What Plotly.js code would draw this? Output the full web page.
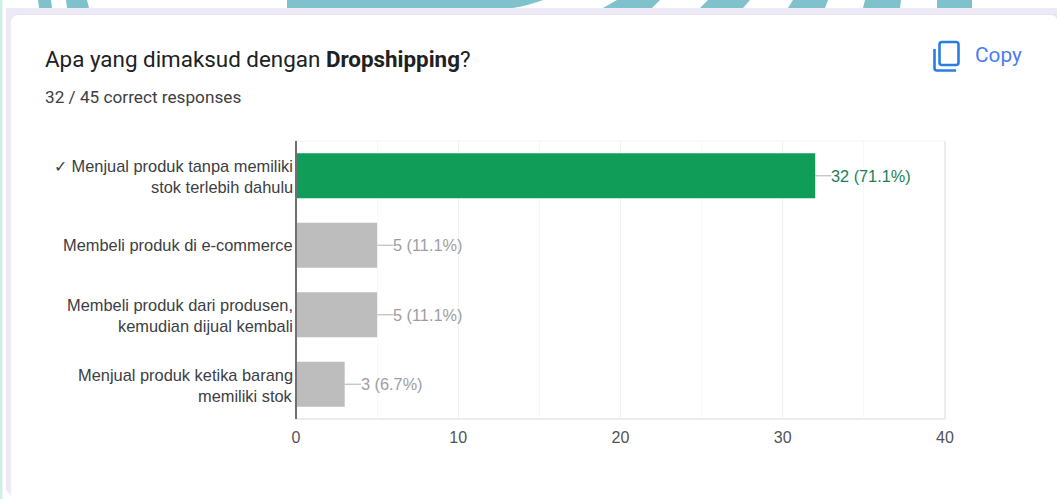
<!DOCTYPE html>
<html>
<head>
<meta charset="utf-8">
<script src="https://cdn.plot.ly/plotly-3.0.1.min.js"></script>
<style>
html,body{margin:0;padding:0;background:#fff;width:1057px;height:499px;overflow:hidden}
#bg{position:absolute;left:0;top:0;width:1057px;height:499px}
#chart{position:absolute;left:0;top:0;width:1057px;height:499px}
</style>
</head>
<body>
<svg id="bg" width="1057" height="499" viewBox="0 0 1057 499">
  <rect width="1057" height="499" fill="#fff"/>
  <rect x="0" y="0" width="2.5" height="499" fill="#cfeee6"/>
  <g fill="#7fc2cb">
    <polygon points="38,0 51,0 52,8 39,8"/>
    <polygon points="66,0 87,0 89,8 67,8"/>
    <path d="M287,0 L543,0 Q530,5 513,8 L287,8 Z"/>
    <polygon points="617,0 660,0 652,8 603,8"/>
    <polygon points="708,0 750,0 743,8 700,8"/>
    <polygon points="793,0 828,0 825,8 788,8"/>
    <polygon points="865,0 901,0 900,8 863,8"/>
    <polygon points="937,0 972,0 972,8 937,8"/>
  </g>
  <path d="M6,8 H1057 V499 H1057 L14,499 L6,490 Z" fill="#ede9f7"/>
  <rect x="11" y="14" width="1060" height="482" rx="8" fill="#e6e4ec"/>
  <path d="M11,23 Q11,15 19,15 H1049 Q1057,15 1057,20 V499 H14 Q11,497 11,494 Z" fill="#fff"/>
  <g fill="none" stroke="#2a7de1" stroke-width="2.6">
    <rect x="939.5" y="42" width="19" height="23" rx="2.5"/>
    <path d="M934.5,49 V68 Q934.5,70.5 937,70.5 H956"/>
  </g>
</svg>
<div id="chart"></div>
<script>
var categories = ["Menjual produk tanpa memiliki stok terlebih dahulu","Membeli produk di e-commerce","Membeli produk dari produsen, kemudian dijual kembali","Menjual produk ketika barang memiliki stok"];
var labelFirstLines = ["\u2713 Menjual produk tanpa memiliki","Membeli produk di e-commerce","Membeli produk dari produsen,","Menjual produk ketika barang"];
var labelSecondLines = ["stok terlebih dahulu","","kemudian dijual kembali","memiliki stok"];
var counts = [32,5,5,3];
var valueLabels = ["32 (71.1%)","5 (11.1%)","5 (11.1%)","3 (6.7%)"];
var barColors = ["#0f9d58","#bdbdbd","#bdbdbd","#bdbdbd"];
var valueLabelColors = ["#1b7f5c","#9e9e9e","#9e9e9e","#9e9e9e"];
var leaderLengths = [1,1,1,1];
var xTicks = [0,10,20,30,40];

var W=1057,H=499,L=296,R=945,T=141,B=419;
function px(x){return (x-L)/(R-L);}
function py(y){return (B-y)/(B-T);}
var ann=[];
function pageText(x,y,text,font,anchor){
  ann.push({xref:'paper',yref:'paper',x:px(x),y:py(y),text:text,showarrow:false,xanchor:anchor||'left',yanchor:'middle',borderpad:0,borderwidth:0,font:font});
}
pageText(45,59,'Apa yang dimaksud dengan <b>Dropshipping</b>?',{family:'Roboto',size:22.4,color:'#202124'});
pageText(45,97,'32 / 45 correct responses',{family:'Roboto',size:17.2,color:'#3c4043'});
pageText(975,55,'Copy',{family:'Roboto',size:20.8,color:'#4a7df0'});

var catFont={family:'Liberation Sans, Arial',size:16.4,color:'#3c4043'};
categories.forEach(function(c,i){
  var two=labelSecondLines[i]!=='';
  ann.push({xref:'x',yref:'y',x:0,y:c,xshift:-2,yshift:two?9.5:0,text:labelFirstLines[i],showarrow:false,xanchor:'right',yanchor:'middle',borderpad:0,font:catFont});
  if(two) ann.push({xref:'x',yref:'y',x:0,y:c,xshift:-2,yshift:-11.5,text:labelSecondLines[i],showarrow:false,xanchor:'right',yanchor:'middle',borderpad:0,font:catFont});
  ann.push({xref:'x',yref:'y',x:counts[i],y:c,xshift:15,text:valueLabels[i],showarrow:false,xanchor:'left',yanchor:'middle',borderpad:0,font:{family:'Liberation Sans, Arial',size:16.3,color:valueLabelColors[i]}});
});

var data=[{
  type:'bar',orientation:'h',x:counts,y:categories,width:0.645,
  marker:{color:barColors,line:{width:0}},
  error_x:{type:'data',symmetric:false,array:leaderLengths,arrayminus:[0,0,0,0],width:0,thickness:1.2,color:'#bdbdbd'},
  hoverinfo:'skip'
}];
var layout={
  width:W,height:H,autosize:false,
  paper_bgcolor:'rgba(0,0,0,0)',plot_bgcolor:'rgba(0,0,0,0)',
  margin:{l:L,r:W-R,t:T,b:H-B,pad:0},
  showlegend:false,
  xaxis:{range:[0,40],tickvals:xTicks,ticktext:xTicks.map(String),tickmode:'array',showgrid:true,gridcolor:'#f0f0f0',gridwidth:1,
    minor:{tickvals:[5,15,25,35],showgrid:true,gridcolor:'#f7f7f7',gridwidth:1,ticks:''},
    zeroline:false,showline:false,ticks:'',tickfont:{family:'Liberation Sans, Arial',size:16,color:'#4f5358'},fixedrange:true,ticklabelstandoff:7},
  yaxis:{type:'category',categoryorder:'array',categoryarray:categories,range:[3.5,-0.5],showticklabels:false,ticks:'',showgrid:false,zeroline:false,showline:false,fixedrange:true},
  annotations:ann,
  shapes:[
    {type:'line',xref:'paper',yref:'paper',x0:0,x1:1,y0:0,y1:0,line:{color:'#ececec',width:2},layer:'below'},
    {type:'line',xref:'paper',yref:'paper',x0:0,x1:1,y0:1,y1:1,line:{color:'#f5f5f5',width:1},layer:'below'},
    {type:'line',xref:'paper',yref:'paper',x0:1,x1:1,y0:0,y1:1,line:{color:'#ececec',width:2},layer:'below'},
    {type:'line',xref:'paper',yref:'paper',x0:0,x1:0,y0:0,y1:1,line:{color:'#707070',width:2},layer:'above'}
  ]
};
Plotly.newPlot('chart',data,layout,{displayModeBar:false,staticPlot:true});
</script>
</body>
</html>
